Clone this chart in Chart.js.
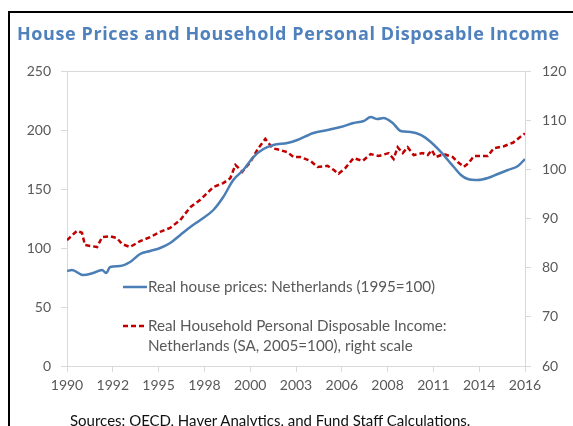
<!DOCTYPE html>
<html>
<head>
<meta charset="utf-8">
<script src="https://cdn.jsdelivr.net/npm/chart.js@4.4.0/dist/chart.umd.min.js"></script>
<style>
  html, body { margin: 0; padding: 0; background: #fff; overflow: hidden; }
  #wrap { position: relative; width: 573px; height: 426px; }
  #frame { position: absolute; left: 8px; top: 11px; width: 600px; height: 500px;
           border-left: 2px solid #000; border-top: 2px solid #000; }
  #title { position: absolute; left: 17px; top: 21px; font: bold 18px "Open Sans", sans-serif;
           letter-spacing: 0.6px; color: #4f81bd; white-space: nowrap; }
  #source { position: absolute; left: 70px; top: 411px; font: 15px Lato, sans-serif;
            color: #111; white-space: nowrap; }
  canvas { position: absolute; left: 0; top: 0; }
</style>
</head>
<body>
<div id="wrap">
  <canvas id="chart" width="573" height="426"></canvas>
  <div id="frame"></div>
  <div id="title">House Prices and Household Personal Disposable Income</div>
  <div id="source">Sources: OECD, Haver Analytics, and Fund Staff Calculations.</div>
</div>
<script>
// x-axis labels (evenly spaced, as in the original)
const tickLabels = ['1990', '1992', '1995', '1998', '2000', '2003', '2006', '2008', '2011', '2014', '2016'];

// Real house prices, 1995=100 (left scale)
const houseYears = [1990.0, 1990.28, 1990.91, 1991.48, 1991.99, 1992.22, 1992.45, 1993.01, 1993.58, 1994.15,
  1994.72, 1995.29, 1995.86, 1996.43, 1997.0, 1997.57, 1998.31, 1998.87, 1999.44, 2000.01,
  2000.58, 2001.15, 2001.72, 2002.51, 2003.08, 2003.99, 2004.79, 2005.53, 2006.27, 2006.84,
  2007.24, 2007.63, 2007.97, 2008.49, 2008.94, 2009.51, 2010.08, 2010.65, 2011.22, 2011.62,
  2011.96, 2012.36, 2012.75, 2013.32, 2013.89, 2014.46, 2015.03, 2015.6, 2016.0];
const houseValues = [80.5, 81.4, 77.1, 78.8, 81.4, 78.8, 83.9, 84.7, 88.1, 94.9,
  97.5, 100, 104.2, 111, 117.8, 123.7, 132.2, 143.2, 157.6, 166.1,
  177.1, 183.9, 187.3, 189, 191.5, 197.5, 200, 202.5, 205.9, 207.6,
  211, 209.3, 210.2, 205.9, 199.2, 198.3, 195.8, 189.8, 181.4, 174.6,
  168.6, 161.9, 158.5, 157.6, 159.3, 162.7, 166.1, 169.5, 175.4];

// Real household personal disposable income, 2005=100 (right scale)
const incomeYears = [1990.0, 1990.57, 1990.85, 1991.02, 1991.71, 1991.99, 1992.45, 1992.84, 1993.13, 1993.58,
  1994.15, 1994.72, 1995.29, 1995.86, 1996.43, 1997.0, 1997.57, 1998.31, 1998.87, 1999.27,
  1999.56, 1999.95, 2000.41, 2000.86, 2001.26, 2001.66, 2002.12, 2002.51, 2002.86, 2003.25,
  2003.82, 2004.22, 2004.79, 2005.13, 2005.42, 2005.81, 2006.27, 2006.78, 2007.24, 2007.69,
  2008.26, 2008.54, 2008.77, 2009.06, 2009.34, 2009.68, 2010.19, 2010.48, 2010.71, 2010.93,
  2011.39, 2011.9, 2012.18, 2012.53, 2012.81, 2013.09, 2013.49, 2013.89, 2014.23, 2014.8,
  2015.31, 2015.88, 2016.0];
const incomeValues = [85.6, 87.5, 87.1, 84.6, 84.2, 86.2, 86.4, 86.0, 84.8, 84.2,
  85.4, 86.2, 87.3, 88.1, 89.7, 92.3, 93.8, 96.4, 97.2, 98.2,
  100.9, 99.5, 101.5, 104.3, 106.2, 104.3, 103.9, 103.5, 102.5, 102.5,
  101.7, 100.5, 100.7, 99.9, 99.1, 100.3, 102.3, 101.7, 103.1, 102.7,
  103.3, 102.1, 104.5, 103.3, 104.5, 102.9, 103.3, 102.9, 103.9, 102.5,
  103.1, 102.5, 101.5, 100.5, 101.3, 102.7, 102.7, 102.7, 104.3, 104.7,
  105.4, 107.0, 107.3];

const houseLabel = ['Real house prices: Netherlands (1995=100)'];
const incomeLabel = ['Real Household Personal Disposable Income:', 'Netherlands (SA, 2005=100), right scale'];

const blue = '#4a7eb4';
const red = '#c00000';
const axisGrey = '#d9d9d9';
const tickGrey = '#595959';

function toPoints(xs, ys) {
  return xs.map((x, i) => ({ x: x, y: ys[i] }));
}

// top border of the plot + hand placed legend inside the plot
const extras = {
  id: 'extras',
  afterDraw(chart) {
    const ctx = chart.ctx;
    const a = chart.chartArea;
    ctx.save();
    ctx.strokeStyle = axisGrey;
    ctx.lineWidth = 1;
    ctx.beginPath();
    ctx.moveTo(a.left, a.top + 0.5);
    ctx.lineTo(a.right, a.top + 0.5);
    ctx.stroke();

    ctx.font = '15.2px Lato, sans-serif';
    ctx.fillStyle = tickGrey;
    ctx.textBaseline = 'middle';
    const x0 = a.left + 56;
    const entries = [
      { lines: houseLabel, color: blue, dash: [], y: a.top + 216 },
      { lines: incomeLabel, color: red, dash: [5, 3], y: a.top + 255 }
    ];
    entries.forEach(e => {
      ctx.beginPath();
      ctx.strokeStyle = e.color;
      ctx.lineWidth = 2.5;
      ctx.setLineDash(e.dash);
      ctx.moveTo(x0, e.y);
      ctx.lineTo(x0 + 24, e.y);
      ctx.stroke();
      ctx.setLineDash([]);
      e.lines.forEach((t, i) => ctx.fillText(t, x0 + 25, e.y + i * 20));
    });
    ctx.restore();
  }
};

document.addEventListener('DOMContentLoaded', function() {
  const ctx = document.getElementById('chart').getContext('2d');
  new Chart(ctx, {
    type: 'line',
    data: {
      datasets: [{
        label: houseLabel.join(' '),
        data: toPoints(houseYears, houseValues),
        borderColor: blue,
        borderWidth: 2.5,
        pointRadius: 0,
        cubicInterpolationMode: 'monotone',
        yAxisID: 'y'
      }, {
        label: incomeLabel.join(' '),
        data: toPoints(incomeYears, incomeValues),
        borderColor: red,
        borderWidth: 2.5,
        borderDash: [5, 3],
        pointRadius: 0,
        tension: 0,
        yAxisID: 'y1'
      }]
    },
    options: {
      responsive: false,
      animation: false,
      layout: { padding: { top: 71, bottom: 30, left: 0, right: 0 } },
      plugins: {
        legend: { display: false },
        tooltip: { enabled: false }
      },
      scales: {
        x: {
          type: 'linear',
          min: 1990,
          max: 2016,
          afterBuildTicks: s => {
            s.ticks = tickLabels.map((t, i) => ({ value: 1990 + i * 26 / (tickLabels.length - 1) }));
          },
          afterFit: s => { s.height = 30; },
          ticks: {
            autoSkip: false,
            maxRotation: 0,
            padding: 5,
            color: tickGrey,
            font: { family: 'Lato', size: 14 },
            callback: (v, i) => tickLabels[i]
          },
          grid: { drawOnChartArea: false, drawTicks: true, tickLength: 6, color: axisGrey },
          border: { color: axisGrey }
        },
        y: {
          position: 'left',
          min: 0,
          max: 250,
          afterFit: s => { s.width = 67; },
          ticks: { stepSize: 50, padding: 10, color: tickGrey, font: { family: 'Lato', size: 14 } },
          grid: { drawOnChartArea: false, drawTicks: true, tickLength: 6, color: axisGrey },
          border: { color: axisGrey }
        },
        y1: {
          position: 'right',
          min: 60,
          max: 120,
          afterFit: s => { s.width = 48; },
          ticks: { stepSize: 10, padding: 11, color: tickGrey, font: { family: 'Lato', size: 14 } },
          grid: { drawOnChartArea: false, drawTicks: true, tickLength: 6, color: axisGrey },
          border: { color: axisGrey }
        }
      }
    },
    plugins: [extras]
  });
});
</script>
</body>
</html>
